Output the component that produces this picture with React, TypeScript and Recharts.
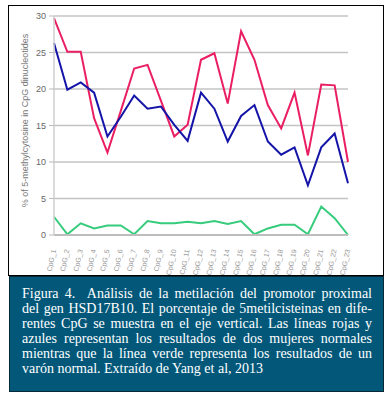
import { LineChart, Line, XAxis, YAxis, CartesianGrid } from "recharts";

const cpgLabels = [
  "CpG_1", "CpG_2", "CpG_3", "CpG_4", "CpG_5", "CpG_6", "CpG_7", "CpG_8",
  "CpG_9", "CpG_10", "CpG_11", "CpG_12", "CpG_13", "CpG_14", "CpG_15", "CpG_16",
  "CpG_17", "CpG_18", "CpG_19", "CpG_20", "CpG_21", "CpG_22", "CpG_23",
];

// two normal women (red, blue) and one normal man (green)
const womanRed = [
  29.7, 25.1, 25.1, 16, 11.3, 17, 22.8, 23.3, 18.4, 13.5, 15.1, 24.0,
  24.9, 18.0, 27.9, 24.0, 17.8, 14.6, 19.5, 10.9, 20.6, 20.5, 10.0,
];
const womanBlue = [
  26.3, 19.9, 20.9, 19.5, 13.5, 16.2, 19.1, 17.3, 17.6, 15.1, 12.9, 19.5,
  17.3, 12.8, 16.3, 17.8, 12.8, 11.0, 12.0, 6.8, 12.0, 13.9, 7.1,
];
const manGreen = [
  2.5, 0.1, 1.6, 0.9, 1.3, 1.3, 0.1, 1.9, 1.6, 1.6, 1.8, 1.6,
  1.9, 1.5, 1.9, 0.1, 0.9, 1.4, 1.4, 0.1, 3.9, 2.3, 0,
];

const yTicks = [0, 5, 10, 15, 20, 25, 30];

const captionLines = [
  "Figura 4.  Análisis de la metilación del promotor proximal",
  "del gen HSD17B10. El porcentaje de 5metilcisteinas en dife-",
  "rentes CpG se muestra en el eje vertical. Las líneas rojas y",
  "azules representan los resultados de dos mujeres normales",
  "mientras que la línea verde representa los resultados de un",
  "varón normal. Extraído de Yang et al, 2013",
];

const data = cpgLabels.map((name, i) => ({
  name,
  red: womanRed[i],
  blue: womanBlue[i],
  green: manGreen[i],
}));

const CpgTick = (props: any) => {
  const { x, y, payload } = props;
  return (
    <g transform={`translate(${x + 2},${y + 7})`}>
      <text
        x={0}
        y={0}
        textAnchor="end"
        transform="rotate(-78)"
        fontSize={7}
        fill="#999"
        fontFamily="Liberation Sans, Arial, sans-serif"
      >
        {payload.value}
      </text>
    </g>
  );
};

const YLabel = (props: any) => {
  const { viewBox } = props;
  const cx = viewBox.x + 25;
  const cy = viewBox.y + viewBox.height / 2 - 5;
  return (
    <text
      x={cx}
      y={cy}
      textAnchor="middle"
      dominantBaseline="central"
      transform={`rotate(-90, ${cx}, ${cy})`}
      fontSize={9}
      fill="#777"
      fontFamily="Liberation Sans, Arial, sans-serif"
    >
      % of 5-methylcytosine in CpG dinucleotides
    </text>
  );
};

export default function App() {
  return (
    <div style={{ position: "absolute", left: 0, top: 0, width: 390, height: 398, background: "#fff" }}>
      <div
        style={{
          position: "absolute",
          left: 8,
          top: 5,
          width: 376,
          height: 271,
          border: "1.5px solid #000",
          boxSizing: "border-box",
        }}
      />
      <div style={{ position: "absolute", left: 0, top: 0 }}>
        <LineChart
          width={390}
          height={280}
          data={data}
          margin={{ top: 16, right: 42, bottom: 0, left: 0 }}
        >
          <CartesianGrid vertical={false} stroke="#c4c4c4" strokeWidth={1.5} />
          <XAxis
            dataKey="name"
            interval={0}
            height={45}
            tick={<CpgTick />}
            tickLine={false}
            axisLine={{ stroke: "#bdbdbd", strokeWidth: 2 }}
          />
          <YAxis
            width={54}
            domain={[0, 30]}
            ticks={yTicks}
            tickSize={5}
            tickMargin={3}
            tick={{ fontSize: 9, fill: "#666", fontFamily: "Liberation Sans, Arial, sans-serif" }}
            tickLine={{ stroke: "#bbb" }}
            axisLine={{ stroke: "#cfcfcf", strokeWidth: 1.5 }}
            label={<YLabel />}
          />
          <Line type="linear" dataKey="red" stroke="#ea1f63" strokeWidth={2} dot={false} isAnimationActive={false} />
          <Line type="linear" dataKey="blue" stroke="#1414a8" strokeWidth={2} dot={false} isAnimationActive={false} />
          <Line type="linear" dataKey="green" stroke="#36cc7c" strokeWidth={2} dot={false} isAnimationActive={false} />
        </LineChart>
      </div>
      <div
        style={{
          position: "absolute",
          left: 9,
          top: 276,
          width: 375,
          height: 116,
          background: "#03587a",
          border: "1px solid #062a38",
          boxSizing: "border-box",
          padding: "9px 11px 0 12px",
          color: "#fff",
          fontFamily: "Liberation Serif, 'DejaVu Serif', serif",
          fontSize: 14,
          lineHeight: "15px",
        }}
      >
        {captionLines.map((line, i) => (
          <div
            key={i}
            style={{
              whiteSpace: "pre",
              textAlign: i < captionLines.length - 1 ? "justify" : "left",
              textAlignLast: i < captionLines.length - 1 ? "justify" : "left",
            }}
          >
            {line}
          </div>
        ))}
      </div>
    </div>
  );
}
